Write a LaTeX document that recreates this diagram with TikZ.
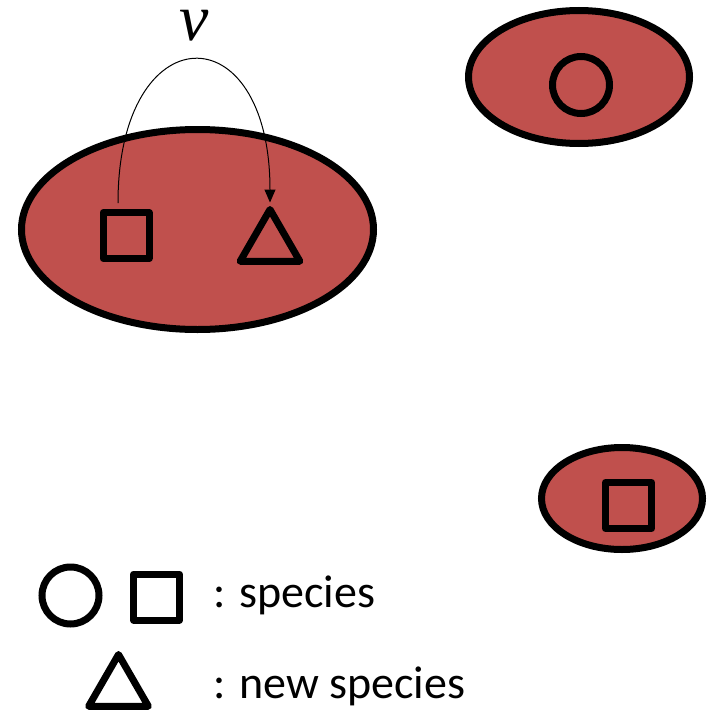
\documentclass[tikz,border=0pt]{standalone}
\usepackage{fontspec}
\setmainfont{Carlito}
\newfontfamily\nufont{Liberation Serif}
\usetikzlibrary{shapes.geometric,arrows.meta,calc}
\definecolor{cellred}{RGB}{192,80,77}
\begin{document}
\begin{tikzpicture}[x=1pt,y=-1pt,
  patch/.style={ellipse, draw=black, fill=cellred, line width=7pt, inner sep=0pt},
  sqsp/.style={rectangle, draw=black, line width=7pt, minimum size=46pt, inner sep=0pt, line join=round},
  circsp/.style={circle, draw=black, line width=7pt, minimum size=57pt, inner sep=0pt},
  trisp/.style={regular polygon, regular polygon sides=3, draw=black, line width=7pt, minimum size=69pt, inner sep=0pt, line join=round},
  lbl/.style={anchor=base west, inner sep=0pt, font=\fontsize{46}{55}\selectfont},
  mut/.style={line width=1pt, -{Triangle[length=13pt,width=11pt]}}
]
\useasboundingbox (0,0) rectangle (712,712);
% patches
\node[patch, minimum width=352pt, minimum height=200pt] (p1) at (197.5,229.5) {};
\node[patch, minimum width=221pt, minimum height=133pt] (p2) at (579,77) {};
\node[patch, minimum width=161pt, minimum height=102pt] (p3) at (622,498.5) {};
% species
\node[sqsp] (sq1) at (126,235.5) {};
\node[trisp] (tri1) at (270,244) {};
\node[circsp] (c2) at (581,85) {};
\node[sqsp] (sq3) at (628.5,505.5) {};
% mutation arrow
\draw[mut] ($(sq1.north)+(-8,-6)$) .. controls +(0,-189) and +(0,-192) .. (tri1.north);
\node[anchor=base, inner sep=0pt] (nu) at (194,40) {\fontsize{66}{70}\selectfont\nufont\itshape ν};
% legend
\node[circsp] (lc) at (70.5,595.5) {};
\node[sqsp] (ls) at (156.5,597) {};
\node[trisp] (lt) at (118.5,689) {};
\node[lbl] (t1) at (213,607) {: species};
\node[lbl] (t2) at (213,698) {: new species};
\end{tikzpicture}
\end{document}
